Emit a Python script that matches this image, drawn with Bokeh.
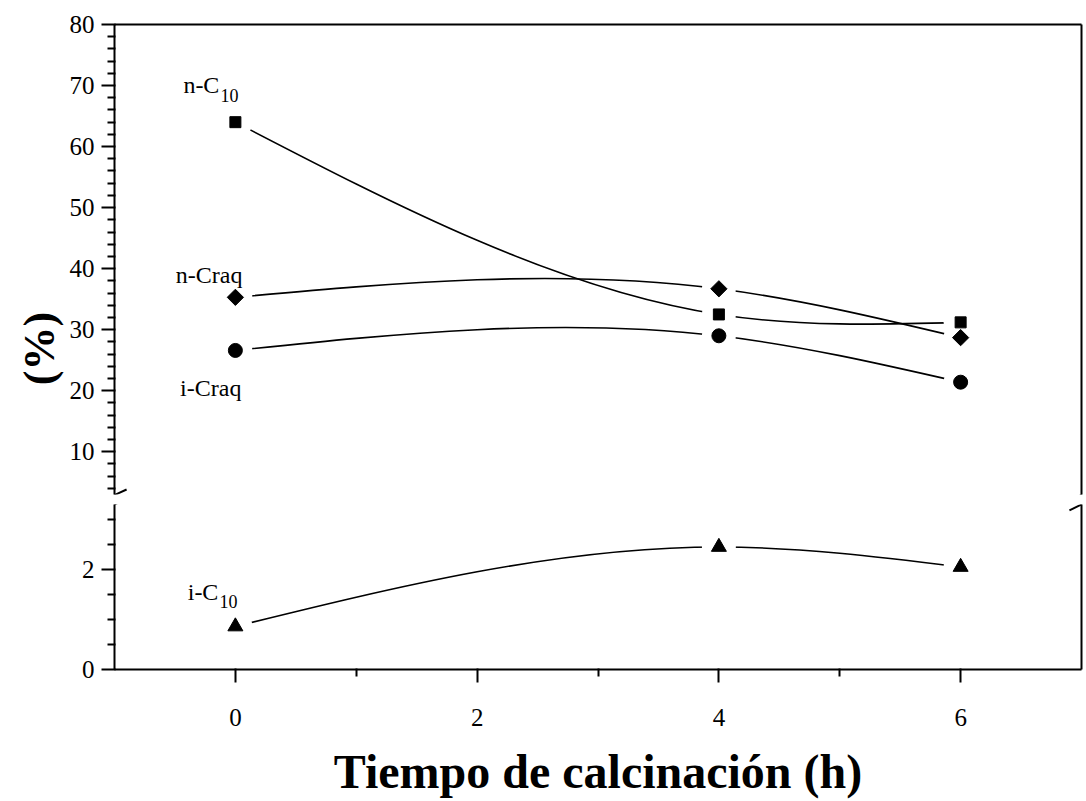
import numpy as np
from bokeh.plotting import figure
from bokeh.layouts import column, row
from bokeh.models import LinearAxis, FixedTicker, Range1d, Arrow, ColumnDataSource
from bokeh.core.properties import value
from bokeh.embed import file_html
from bokeh.resources import INLINE

# ---------------- data ----------------
time_h = [0, 4, 6]
n_c10 = [64.0, 32.5, 31.2]
n_craq = [35.3, 36.7, 28.7]
i_craq = [26.6, 29.0, 21.4]
i_c10 = [0.86, 2.45, 2.05]

x_ticks = [0, 2, 4, 6]
x_minor = [1, 3, 5]
upper_ticks = [10, 20, 30, 40, 50, 60, 70, 80]
upper_minor = [v for v in range(4, 80, 2) if v % 10]
lower_ticks = [0, 2]
lower_minor = [0.5, 1.0, 1.5, 2.5, 3.0]

x_title = "Tiempo de calcinación (h)"
y_title = "(%)"

FONT = "Liberation Serif"


def spline_bezier(xs, ys):
    """Natural cubic spline through the points, as cubic Bezier segments."""
    xs = np.asarray(xs, float)
    ys = np.asarray(ys, float)
    n = len(xs)
    h = np.diff(xs)
    d = np.diff(ys) / h
    A = np.zeros((n, n))
    b = np.zeros(n)
    A[0, 0] = A[-1, -1] = 1
    for i in range(1, n - 1):
        A[i, i - 1] = h[i - 1]
        A[i, i] = 2 * (h[i - 1] + h[i])
        A[i, i + 1] = h[i]
        b[i] = 6 * (d[i] - d[i - 1])
    M = np.linalg.solve(A, b)
    s0 = d - h * (2 * M[:-1] + M[1:]) / 6
    s1 = d + h * (M[:-1] + 2 * M[1:]) / 6
    return ColumnDataSource(dict(
        x0=xs[:-1], y0=ys[:-1], x1=xs[1:], y1=ys[1:],
        cx0=xs[:-1] + h / 3, cy0=ys[:-1] + h / 3 * s0,
        cx1=xs[1:] - h / 3, cy1=ys[1:] - h / 3 * s1))


def style_axis(ax, ticks=None, minor=None):
    ax.axis_line_width = 2
    ax.axis_line_color = "black"
    if ticks is None:
        ax.ticker = FixedTicker(ticks=[])
        ax.major_tick_out = 0
        ax.major_tick_in = 0
        ax.minor_tick_out = 0
        ax.minor_tick_in = 0
        ax.major_label_standoff = 0
        ax.major_label_text_font_size = "0px"
    else:
        ax.ticker = FixedTicker(ticks=ticks, minor_ticks=minor)
        ax.major_tick_line_width = 2
        ax.minor_tick_line_width = 2
        ax.major_tick_out = 13
        ax.major_tick_in = 1
        ax.minor_tick_out = 7
        ax.minor_tick_in = 1
        ax.major_label_text_font = FONT
        ax.major_label_text_font_size = "25px"
        ax.major_label_text_color = "black"
        ax.major_label_standoff = 7


SIDE_W = 66
UP_H, LO_H = 503, 297

x_rng = Range1d(-1, 7)
common = dict(width=1086 - SIDE_W - 1, x_range=x_rng, output_backend="svg", toolbar_location=None,
              x_axis_location=None, y_axis_location=None, outline_line_color=None,
              min_border_left=112 - SIDE_W, min_border_right=4,
              background_fill_color="white", border_fill_color="white")

up = figure(height=UP_H, y_range=Range1d(3, 80), min_border_top=24, min_border_bottom=9, **common)
lo = figure(height=LO_H, y_range=Range1d(0, 3.3), min_border_top=1, min_border_bottom=128, **common)

for p in (up, lo):
    p.grid.visible = False

# axes, upper panel
ax = LinearAxis(); style_axis(ax, upper_ticks, upper_minor); up.add_layout(ax, "left")
ax = LinearAxis(); style_axis(ax); up.add_layout(ax, "right")
ax = LinearAxis(); style_axis(ax); up.add_layout(ax, "above")

# axes, lower panel
ax = LinearAxis(); style_axis(ax, lower_ticks, lower_minor); lo.add_layout(ax, "left")
ax = LinearAxis(); style_axis(ax); lo.add_layout(ax, "right")
ax = LinearAxis(); style_axis(ax, x_ticks, x_minor)
ax.major_label_standoff = 26
ax.axis_label = x_title
ax.axis_label_text_font = FONT
ax.axis_label_text_font_style = "bold"
ax.axis_label_text_font_size = "48px"
ax.axis_label_text_color = "black"
ax.axis_label_standoff = 16
lo.add_layout(ax, "below")

# curves (spline connection)
LW = 1.6
for p, ys in ((up, n_c10), (up, n_craq), (up, i_craq), (lo, i_c10)):
    p.bezier(x0="x0", y0="y0", x1="x1", y1="y1", cx0="cx0", cy0="cy0", cx1="cx1", cy1="cy1",
             source=spline_bezier(time_h, ys), line_color="black", line_width=LW)

# white gaps around symbols
for p, ys in ((up, n_c10), (up, n_craq), (up, i_craq), (lo, i_c10)):
    p.scatter(time_h, ys, marker="circle", size=34, fill_color="white", line_color=None)

# symbols
up.scatter(time_h, n_c10, marker="square", size=11, color="black")
up.scatter(time_h, n_craq, marker="square", angle=np.pi / 4, size=11.5, color="black")
up.scatter(time_h, i_craq, marker="circle", size=14, color="black")
lo.scatter(time_h, i_c10, marker="triangle", size=15, color="black")

# series labels next to first point
lab = dict(text_font=value(FONT), text_color="black", text_baseline="middle")
up.text(x=[time_h[0]], y=[n_c10[0]], text=["n-C"], x_offset=-16, y_offset=-37,
        text_align="right", text_font_size="24px", **lab)
up.text(x=[time_h[0]], y=[n_c10[0]], text=["10"], x_offset=-15, y_offset=-27,
        text_align="left", text_font_size="18px", **lab)
up.text(x=[time_h[0]], y=[n_craq[0]], text=["n-Craq"], x_offset=7, y_offset=-22,
        text_align="right", text_font_size="24px", **lab)
up.text(x=[time_h[0]], y=[i_craq[0]], text=["i-Craq"], x_offset=6, y_offset=38,
        text_align="right", text_font_size="24px", **lab)
lo.text(x=[time_h[0]], y=[i_c10[0]], text=["i-C"], x_offset=-17, y_offset=-35,
        text_align="right", text_font_size="24px", **lab)
lo.text(x=[time_h[0]], y=[i_c10[0]], text=["10"], x_offset=-16, y_offset=-25,
        text_align="left", text_font_size="18px", **lab)

# axis-break marks (drawn in both panels; each canvas shows its part)
def add_breaks(p, y_of_px):
    for xc in (-1.0, 7.0):
        for (ya, yb) in ((500, 489), (510, 498)):
            p.add_layout(Arrow(x_start=xc - 0.1, y_start=y_of_px(ya), x_end=xc + 0.1,
                               y_end=y_of_px(yb), end=None, start=None,
                               line_color="black", line_width=2))

add_breaks(up, lambda yp: 80 - (yp - 24) / (470 / 77))
add_breaks(lo, lambda yp: (672 - yp) / (168 / 3.3))

# side strip holding the y-axis title, centred on both panels
side = figure(width=SIDE_W, height=UP_H + LO_H, x_range=Range1d(0, SIDE_W),
              y_range=Range1d(UP_H + LO_H, 0), output_backend="svg", toolbar_location=None,
              x_axis_location=None, y_axis_location=None, outline_line_color=None,
              min_border=0, background_fill_color="white", border_fill_color="white")
side.grid.visible = False
side.text(x=[39], y=[348], text=[y_title], angle=np.pi / 2, text_align="center",
          text_baseline="middle", text_font=value(FONT), text_font_style="bold",
          text_font_size="44px", text_color="black")

layout = row(side, column(up, lo, spacing=0), spacing=0)
open("out.html", "w").write(file_html(layout, INLINE))
